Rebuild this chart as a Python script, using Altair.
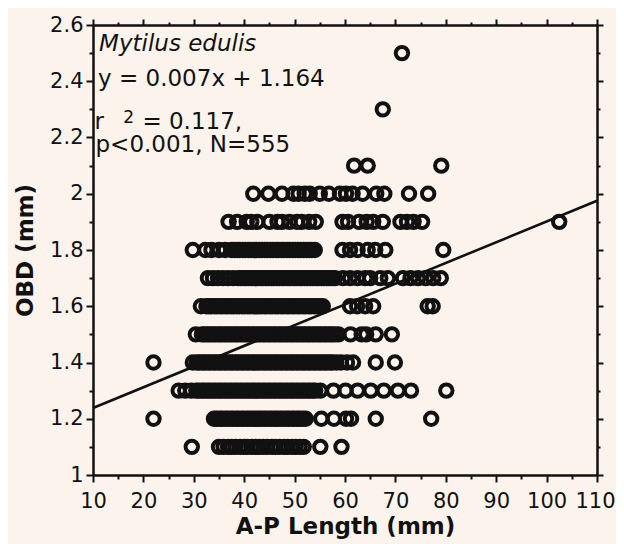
import altair as alt
import pandas as pd

# ---------------- data ----------------
row_1_1 = [29.6, 35.0, 35.9, 36.8, 37.5, 38.3, 39.2, 40.0, 40.6, 41.5, 42.3, 43.0,
           43.8, 44.6, 45.5, 46.2, 47.0, 47.9, 48.6, 49.5, 50.2, 51.0, 51.8, 55.1, 59.3]
row_1_2 = [22.0, 34.0, 34.5, 35.1, 35.6, 36.2, 36.7, 37.3, 37.8, 38.4, 38.9, 39.5,
           40.0, 40.6, 41.1, 41.7, 42.2, 42.8, 43.3, 43.9, 44.4, 45.0, 45.5, 46.1,
           46.6, 47.2, 47.7, 48.3, 48.8, 49.4, 49.9, 50.5, 51.0, 51.6, 52.2,
           55.3, 57.8, 60.2, 61.2, 66.1, 77.1]
row_1_3 = [27.0, 28.3, 29.5, 30.5, 31.0, 31.6, 32.1, 32.7, 33.2, 33.8, 34.3, 34.9,
           35.4, 36.0, 36.5, 37.1, 37.6, 38.2, 38.7, 39.3, 39.8, 40.4, 40.9, 41.5,
           42.0, 42.6, 43.1, 43.7, 44.2, 44.8, 45.3, 45.9, 46.4, 47.0, 47.5, 48.1,
           48.6, 49.2, 49.7, 50.3, 50.8, 51.4, 51.9, 52.5, 53.0, 53.6, 54.1,
           55.1, 57.7, 60.1, 62.5, 65.1, 67.7, 70.5, 73.1, 80.1]
row_1_4 = [22.0, 29.8, 30.6, 31.1, 31.7, 32.2, 32.8, 33.3, 33.9, 34.4, 35.0, 35.5,
           36.1, 36.6, 37.2, 37.7, 38.3, 38.8, 39.4, 39.9, 40.5, 41.0, 41.6, 42.1,
           42.7, 43.2, 43.8, 44.3, 44.9, 45.4, 46.0, 46.5, 47.1, 47.6, 48.2, 48.7,
           49.3, 49.8, 50.4, 50.9, 51.5, 52.0, 52.6, 53.1, 53.7, 54.2, 54.8, 55.3,
           55.9, 56.4, 57.0, 57.5, 58.3, 59.2, 60.4, 61.6, 66.1, 69.9]
row_1_5 = [30.4, 31.6, 32.1, 32.7, 33.2, 33.8, 34.3, 34.9, 35.4, 36.0, 36.5, 37.1,
           37.6, 38.2, 38.7, 39.3, 39.8, 40.4, 40.9, 41.5, 42.0, 42.6, 43.1, 43.7,
           44.2, 44.8, 45.3, 45.9, 46.4, 47.0, 47.5, 48.1, 48.6, 49.2, 49.7, 50.3,
           50.8, 51.4, 51.9, 52.5, 53.0, 53.6, 54.1, 54.7, 55.2, 55.8, 56.3, 56.9,
           57.4, 58.0, 58.7, 61.1, 63.3, 64.2, 66.1, 69.3]
row_1_6 = [31.4, 32.5, 33.0, 33.5, 34.1, 34.6, 35.2, 35.7, 36.3, 36.8, 37.4, 37.9,
           38.5, 39.0, 39.6, 40.1, 40.7, 41.2, 41.8, 42.3, 42.9, 43.4, 44.0, 44.5,
           45.1, 45.6, 46.2, 46.7, 47.3, 47.8, 48.4, 48.9, 49.5, 50.0, 50.6, 51.1,
           51.7, 52.2, 52.8, 53.3, 53.9, 54.4, 55.0, 55.6,
           61.0, 62.4, 64.0, 65.6, 76.4, 77.4]
row_1_7 = [32.8, 33.8, 34.8, 35.8, 36.8, 37.8, 38.8, 39.3, 39.9, 40.4, 41.0, 41.5,
           42.1, 42.6, 43.2, 43.7, 44.3, 44.8, 45.4, 45.9, 46.5, 47.0, 47.6, 48.1,
           48.7, 49.2, 49.8, 50.3, 50.9, 51.4, 52.0, 52.5, 53.1, 53.6, 54.2, 54.7,
           55.3, 55.8, 56.4, 56.9, 57.5, 58.0,
           59.6, 61.0, 62.5, 64.0, 65.0, 67.0, 68.5, 71.5, 73.0, 74.5, 76.0, 77.5, 79.0]
row_1_8 = [29.8, 32.3, 33.5, 35.0, 36.2, 37.5, 38.0, 38.6, 39.1, 39.7, 40.2, 40.8,
           41.3, 41.9, 42.4, 43.0, 43.5, 44.1, 44.6, 45.2, 45.7, 46.3, 46.8, 47.4,
           47.9, 48.5, 49.0, 49.6, 50.1, 50.7, 51.2, 51.8, 52.3, 52.9, 53.4, 54.0,
           59.5, 61.0, 62.5, 64.5, 66.0, 68.0, 79.5]
row_1_9 = [36.9, 38.6, 40.5, 41.4, 42.6, 45.0, 46.6, 47.5, 49.0, 50.5, 51.4, 52.9,
           54.2, 59.5, 60.6, 62.8, 64.3, 65.6, 67.5, 71.0, 72.3, 73.6, 75.3, 102.5]
row_2_0 = [41.8, 44.8, 47.5, 49.8, 50.8, 52.0, 53.0, 55.0, 56.8, 59.0, 60.2, 61.5,
           63.5, 66.2, 67.8, 72.7, 76.5]
row_2_1 = [61.8, 64.5, 79.1]
row_2_3 = [67.5]
row_2_5 = [71.3]

obd_levels = [1.1, 1.2, 1.3, 1.4, 1.5, 1.6, 1.7, 1.8, 1.9, 2.0, 2.1, 2.3, 2.5]
rows = [row_1_1, row_1_2, row_1_3, row_1_4, row_1_5, row_1_6, row_1_7,
        row_1_8, row_1_9, row_2_0, row_2_1, row_2_3, row_2_5]

line_x = [10, 110]
line_y = [1.238, 1.975]

x_ticks = [10, 15, 20, 25, 30, 35, 40, 45, 50, 55, 60, 65, 70, 75, 80, 85, 90,
           95, 100, 105, 110]
y_ticks = [1.0, 1.1, 1.2, 1.3, 1.4, 1.5, 1.6, 1.7, 1.8, 1.9, 2.0, 2.1, 2.2, 2.3,
           2.4, 2.5, 2.6]

ann_plain_text = ["y = 0.007x + 1.164", "r", "= 0.117,", "p<0.001, N=555"]
ann_plain_x = [11.0, 10.3, 19.8, 10.5]
ann_plain_y = [2.383, 2.232, 2.232, 2.150]
ann_italic_text = ["Mytilus edulis"]
ann_italic_x = [11.2]
ann_italic_y = [2.508]
ann_sup_text = ["2"]
ann_sup_x = [16.0]
ann_sup_y = [2.25]

# ---------------- build tables ----------------
recs = []
for lvl, xs in zip(obd_levels, rows):
    for v in xs:
        recs.append({"len": v, "obd": lvl})
pts = pd.DataFrame(recs)
line_df = pd.DataFrame({"len": line_x, "obd": line_y})
plain_df = pd.DataFrame({"t": ann_plain_text, "len": ann_plain_x, "obd": ann_plain_y})
ital_df = pd.DataFrame({"t": ann_italic_text, "len": ann_italic_x, "obd": ann_italic_y})
sup_df = pd.DataFrame({"t": ann_sup_text, "len": ann_sup_x, "obd": ann_sup_y})

FONT = "DejaVu Sans"
INK = "#111111"
BG = "#fcf4ec"

xscale = alt.Scale(domain=[10, 110], nice=False, zero=False)
yscale = alt.Scale(domain=[1.0, 2.6], nice=False, zero=False)

major_x = "datum.value % 10 == 0"
major_y = "abs(datum.value * 5 - round(datum.value * 5)) < 0.001"

common_axis = dict(domainColor=INK, domainWidth=2.5, tickColor=INK, tickWidth=2,
                   grid=False, labelFont=FONT, labelFontSize=21, labelColor=INK,
                   titleFont=FONT, titleFontSize=23, titleFontWeight="bold",
                   titleColor=INK)

x_bottom = alt.Axis(values=x_ticks, orient="bottom", title="A-P Length (mm)",
                    labelExpr=f"{major_x} ? datum.label : ''",
                    tickSize={"condition": {"test": major_x, "value": 7}, "value": 4},
                    labelOffset={"condition": {"test": "datum.value == 110", "value": -2},
                                 "value": 0},
                    labelPadding=8, titlePadding=4, labelFlush=False,
                    labelOverlap=False, **common_axis)
y_left = alt.Axis(values=y_ticks, orient="left", title="OBD (mm)", format="~g",
                  labelExpr=f"{major_y} ? datum.label : ''",
                  tickSize={"condition": {"test": major_y, "value": 7}, "value": 4},
                  labelPadding=3, titlePadding=12, labelFlush=False,
                  labelOverlap=False, **common_axis)
x_top = alt.Axis(values=x_ticks, orient="top", title="", labels=False,
                 tickSize={"condition": {"test": major_x, "value": 6}, "value": 3},
                 **common_axis)
y_right = alt.Axis(values=y_ticks, orient="right", title="", labels=False,
                   tickSize={"condition": {"test": major_y, "value": 6}, "value": 3},
                   **common_axis)

points = alt.Chart(pts).mark_point(
    shape="circle", filled=False, size=154, strokeWidth=4, color=INK, opacity=1
).encode(
    x=alt.X("len:Q", scale=xscale, axis=x_bottom),
    y=alt.Y("obd:Q", scale=yscale, axis=y_left),
)

reg = alt.Chart(line_df).mark_line(color=INK, strokeWidth=2.6).encode(
    x=alt.X("len:Q", scale=xscale, axis=x_top),
    y=alt.Y("obd:Q", scale=yscale, axis=y_right),
)

def text_layer(df, **kw):
    return alt.Chart(df).mark_text(
        align="left", baseline="alphabetic", font=FONT, color=INK, **kw
    ).encode(
        x=alt.X("len:Q", scale=xscale, axis=None),
        y=alt.Y("obd:Q", scale=yscale, axis=None),
        text="t:N",
    )

txt_plain = text_layer(plain_df, fontSize=23)
txt_ital = text_layer(ital_df, fontSize=23, fontStyle="italic")
txt_sup = text_layer(sup_df, fontSize=17)

chart = alt.layer(points, reg, txt_plain, txt_ital, txt_sup).resolve_axis(
    x="independent", y="independent"
).properties(
    width=504, height=450,
    autosize=alt.AutoSizeParams(type="none"),
    padding={"left": 85, "top": 17, "right": 19, "bottom": 69},
    background=BG,
).configure_view(strokeWidth=0)

chart.save("out.html", embed_options={"renderer": "svg", "actions": False})
